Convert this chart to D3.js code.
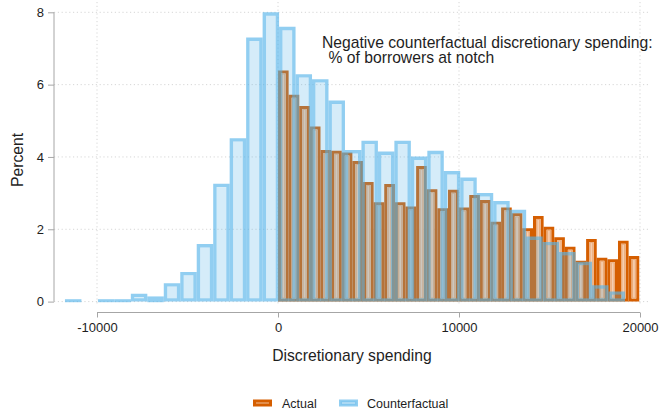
<!DOCTYPE html>
<html>
<head>
<meta charset="utf-8">
<script src="https://cdn.jsdelivr.net/npm/d3@7"></script>
<style>
  html, body { margin: 0; padding: 0; background: #fff; }
  svg { display: block; font-family: "Liberation Sans", Arial, sans-serif; }
</style>
</head>
<body>
<svg id="chart" width="659" height="410"></svg>
<script>
// Percent of borrowers per bin (34 bins each)
const counterfactualPct = [
  0.06, 0, 0.05, 0.05, 0.22, 0.16, 0.51, 0.82, 1.59, 3.26,
  4.52, 7.30, 8.00, 7.60, 6.29, 6.15, 5.56, 4.19, 4.45, 4.15,
  4.45, 4.01, 4.17, 3.61, 3.43, 3.00, 2.78, 2.54, 1.80, 1.65,
  1.37, 1.10, 0.45, 0.28
];
const actualPct = [
  6.39, 5.72, 5.41, 4.84, 4.19, 4.17, 4.12, 3.89, 3.31, 2.75,
  3.25, 2.75, 2.63, 3.75, 3.11, 2.58, 3.09, 2.60, 2.95, 2.81,
  2.21, 2.60, 2.44, 2.03, 2.37, 2.07, 1.78, 1.52, 1.13, 1.73,
  1.21, 1.17, 1.68, 1.26
];
// Bin layout (spending units)
const counterfactualBinStart = -11770;
const counterfactualBinWidth = 910;
const actualBinStart = 0;
const actualBinWidth = 587;

const xTicks = [-10000, 0, 10000, 20000];
const yTicks = [0, 2, 4, 6, 8];
const seriesNames = ["Actual", "Counterfactual"];
const xTitle = "Discretionary spending";
const yTitle = "Percent";
const noteLines = ["Negative counterfactual discretionary spending:", "% of borrowers at notch"];

const svg = d3.select("#chart");
const x = d3.scaleLinear().domain([-10000, 20000]).range([97, 640]);
const y = d3.scaleLinear().domain([0, 8]).range([301.6, 12.3]);

const plot = { left: 54, right: 648, top: 2, bottom: 305 };
const axisColor = "#a6a6a6";
const textColor = "#1e1e1e";

const styles = {
  actual: { line: "rgb(213,94,0)", fill: "rgb(236,172,122)", center: "rgb(245,206,176)", sw: 3.0 },
  counterfactual: { line: "rgba(86,180,233,0.65)", fill: "rgba(86,180,233,0.25)", center: null, sw: 3.4 }
};

// Grid
const grid = svg.append("g").attr("stroke", "#d6d6d6").attr("stroke-width", 1)
  .attr("stroke-dasharray", "1.2,2.6").attr("fill", "none");
yTicks.forEach(t => grid.append("line")
  .attr("x1", plot.left).attr("x2", plot.right)
  .attr("y1", y(t)).attr("y2", y(t)));
xTicks.forEach(t => grid.append("line")
  .attr("x1", x(t)).attr("x2", x(t))
  .attr("y1", plot.top).attr("y2", plot.bottom));

// Bars with their outline kept inside each bin
function drawBars(values, start, width, st) {
  const g = svg.append("g");
  values.forEach((v, i) => {
    if (v <= 0) return;
    const x0 = x(start + i * width);
    const x1 = x(start + (i + 1) * width);
    const w = x1 - x0;
    const top = y(v), base = y(0);
    const h = base - top;
    const sw = st.sw;
    if (h <= 2 * sw) {
      const hh = Math.max(h, 3);
      g.append("rect").attr("x", x0).attr("y", base - hh + 0.6)
        .attr("width", w).attr("height", hh).attr("fill", st.line);
      return;
    }
    const outer = `M${x0},${top}H${x1}V${base}H${x0}Z`;
    const inner = `M${x0 + sw},${top + sw}V${base - sw}H${x1 - sw}V${top + sw}Z`;
    g.append("path").attr("d", outer + inner).attr("fill-rule", "evenodd").attr("fill", st.line);
    g.append("rect").attr("x", x0 + sw).attr("y", top + sw)
      .attr("width", w - 2 * sw).attr("height", h - 2 * sw).attr("fill", st.fill);
    if (st.center) {
      const cw = (w - 2 * sw) * 0.36;
      g.append("rect").attr("x", x0 + w / 2 - cw / 2).attr("y", top + sw + 1)
        .attr("width", cw).attr("height", Math.max(0, h - 2 * sw - 2)).attr("fill", st.center);
    }
  });
}
drawBars(actualPct, actualBinStart, actualBinWidth, styles.actual);
drawBars(counterfactualPct, counterfactualBinStart, counterfactualBinWidth, styles.counterfactual);

// Axes
const yAxis = d3.axisLeft(y).tickValues(yTicks).tickSize(6).tickPadding(4).tickFormat(d => String(d));
const yg = svg.append("g").attr("transform", `translate(${plot.left},0)`).call(yAxis);
const xAxis = d3.axisBottom(x).tickValues(xTicks).tickSize(5).tickPadding(5).tickFormat(d => String(d));
const xg = svg.append("g").attr("transform", "translate(0,312.5)").call(xAxis);
[yg, xg].forEach(g => {
  g.select(".domain").remove();
  g.selectAll(".tick line").attr("stroke", axisColor);
  g.selectAll(".tick text").attr("fill", textColor).attr("font-size", 13)
    .attr("font-family", "Liberation Sans, Arial, sans-serif");
});
yg.append("line").attr("x1", 0).attr("x2", 0).attr("y1", y(8)).attr("y2", y(0))
  .attr("stroke", axisColor);
xg.append("line").attr("x1", x(-10000)).attr("x2", x(20000)).attr("y1", 0).attr("y2", 0)
  .attr("stroke", axisColor);

// Axis titles
svg.append("text").attr("x", 352).attr("y", 361).attr("text-anchor", "middle")
  .attr("font-size", 15.7).attr("fill", textColor).text(xTitle);
svg.append("text").attr("transform", "translate(23,160) rotate(-90)").attr("text-anchor", "middle")
  .attr("font-size", 15.7).attr("fill", textColor).text(yTitle);

// Note
svg.append("text").attr("x", 322).attr("y", 47.5).attr("font-size", 15.7)
  .attr("fill", textColor).text(noteLines[0]);
svg.append("text").attr("x", 328.5).attr("y", 63).attr("font-size", 15.7)
  .attr("fill", textColor).text(noteLines[1]);

// Legend
const legend = svg.append("g");
const keys = [
  { name: seriesNames[0], st: styles.actual, kx: 253, tx: 282 },
  { name: seriesNames[1], st: styles.counterfactual, kx: 339, tx: 367 }
];
keys.forEach(k => {
  legend.append("rect").attr("x", k.kx + 1.5).attr("y", 399.5 + 1.5).attr("width", 16).attr("height", 4)
    .attr("fill", k.st === styles.actual ? "rgb(240,190,150)" : "rgba(86,180,233,0.25)")
    .attr("stroke", k.st.line).attr("stroke-width", 3);
  legend.append("text").attr("x", k.tx).attr("y", 407.5).attr("font-size", 12.5)
    .attr("fill", textColor).text(k.name);
});
</script>
</body>
</html>
